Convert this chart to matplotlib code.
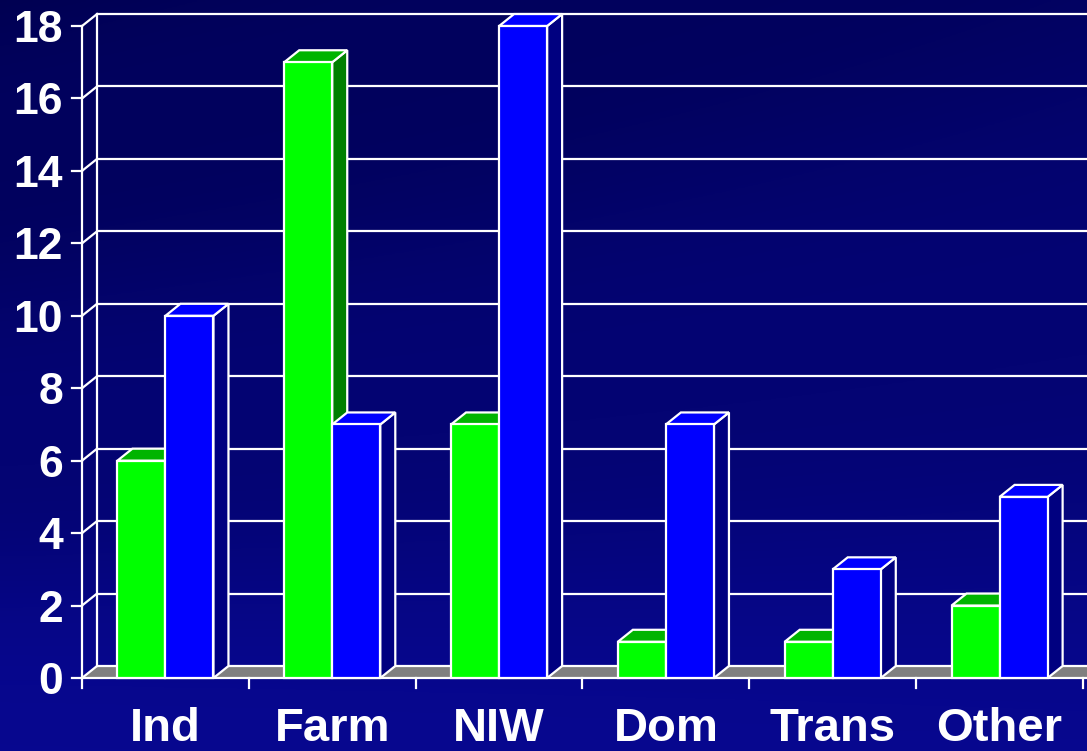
import numpy as np
import matplotlib
matplotlib.use('Agg')
import matplotlib.pyplot as plt
from matplotlib.patches import Polygon

categories = ['Ind', 'Farm', 'NIW', 'Dom', 'Trans', 'Other']
green_vals = [6, 17, 7, 1, 1, 2]
blue_vals = [10, 7, 18, 7, 3, 5]
yticks = [0, 2, 4, 6, 8, 10, 12, 14, 16, 18]

W, H = 1087, 751
X0, CAT = 82, 166.83       # pixel of x=0, pixels per category
Y0, UNIT = 678, 36.22      # pixel (from top) of y=0, pixels per unit
DX, DY = 15 / CAT, 12 / UNIT
BW = 0.288

fig = plt.figure(figsize=(W / 100, H / 100), dpi=100)
ax = fig.add_axes([0, 0, 1, 1])
xlim = (-X0 / CAT, (W - X0) / CAT)
ylim = (-(H - Y0) / UNIT, Y0 / UNIT)
ax.set_xlim(xlim)
ax.set_ylim(ylim)
ax.axis('off')

# background: dark navy with soft diagonal bands
yy, xx = np.mgrid[0:1:300j, 0:1:430j]
s = 0.55 * yy + 0.35 * (1 - xx) * yy + 0.3 * xx
band = 0.05 * np.sin(s * 18) + 0.03 * np.sin(s * 7 + 1)
t = np.clip(s + band, 0, 1)
lo = np.array([0, 0, 80]) / 255
hi = np.array([8, 8, 150]) / 255
img = lo + (hi - lo) * t[..., None]
ax.imshow(img, extent=(xlim[0], xlim[1], ylim[0], ylim[1]), origin='upper',
          aspect='auto', zorder=0)

lw = 1.6
wc = 'white'
n = len(categories)
right = xlim[1] + 0.1

# floor
ax.add_patch(Polygon([(0, 0), (right, 0), (right + DX, DY), (DX, DY)],
                     closed=True, facecolor='#808080', edgecolor='none', zorder=1))

# back gridlines and left wall
for v in yticks:
    ax.plot([DX, right], [v + DY, v + DY], color=wc, lw=lw, zorder=2, solid_capstyle='butt')
    ax.plot([0, DX], [v, v + DY], color=wc, lw=lw, zorder=2)
    ax.plot([-10 / CAT, 0], [v, v], color=wc, lw=lw, zorder=2)
    ax.text(-19 / CAT, v, str(v), color='white', fontsize=32, fontweight='bold',
            family='Liberation Sans', ha='right', va='center_baseline', zorder=5)
ax.plot([DX, DX], [DY, 18 + DY], color=wc, lw=lw, zorder=2)
ax.plot([0, 0], [-10 / UNIT, 18], color=wc, lw=lw, zorder=2)
ax.plot([0, right], [0, 0], color=wc, lw=lw, zorder=2)
for i in range(1, n + 1):
    ax.plot([i, i], [-10 / UNIT, 0], color=wc, lw=lw, zorder=2)


def bar3d(x0, h, front, top, side, z):
    x1 = x0 + BW
    ax.add_patch(Polygon([(x1, 0), (x1 + DX, DY), (x1 + DX, h + DY), (x1, h)],
                         facecolor=side, edgecolor=wc, lw=lw, zorder=z, joinstyle='miter'))
    ax.add_patch(Polygon([(x0, h), (x0 + DX, h + DY), (x1 + DX, h + DY), (x1, h)],
                         facecolor=top, edgecolor=wc, lw=lw, zorder=z, joinstyle='miter'))
    ax.add_patch(Polygon([(x0, 0), (x0, h), (x1, h), (x1, 0)],
                         facecolor=front, edgecolor=wc, lw=lw, zorder=z, joinstyle='miter'))


z = 3
for i in range(n):
    c = i + 0.5
    bar3d(c - BW, green_vals[i], '#00ff00', '#00b400', '#008000', z)
    bar3d(c, blue_vals[i], '#0000ff', '#0000ff', '#000080', z + 0.1)
    z += 0.2
    ax.text(c, -(741 - Y0) / UNIT, categories[i], color='white', fontsize=34,
            fontweight='bold', family='Liberation Sans', ha='center', va='baseline', zorder=5)

fig.savefig('out.png', dpi=100)
